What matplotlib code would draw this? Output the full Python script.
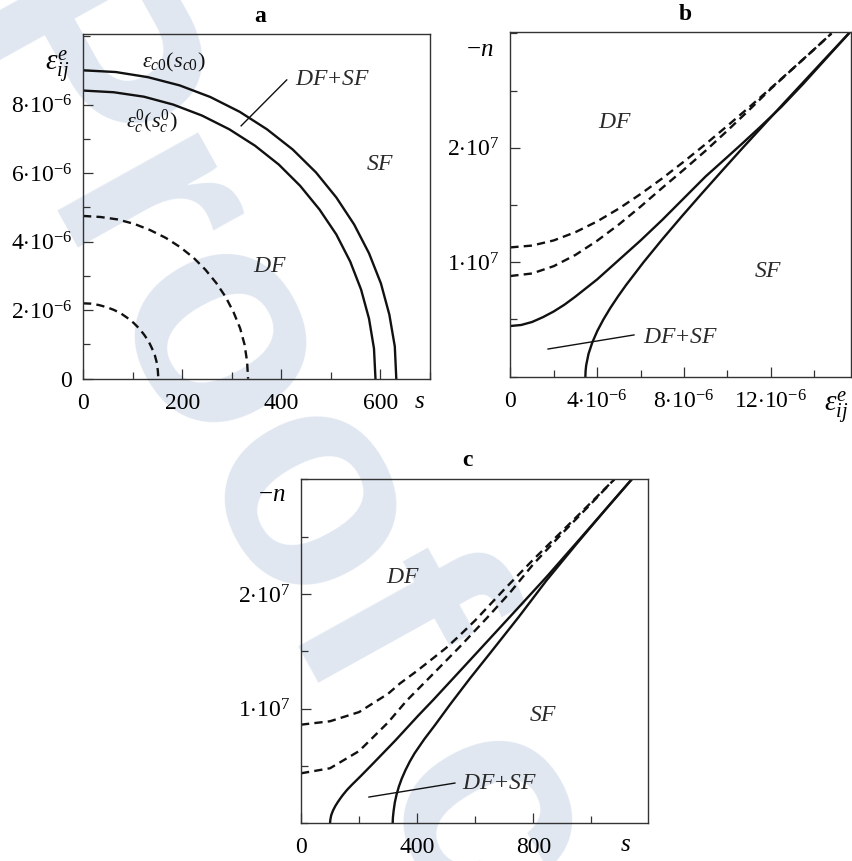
import matplotlib
matplotlib.use('Agg')
import matplotlib.pyplot as plt
from matplotlib.ticker import MultipleLocator

plt.rcParams['font.family'] = ['Liberation Serif', 'DejaVu Serif']
plt.rcParams['mathtext.fontset'] = 'custom'
plt.rcParams['mathtext.rm'] = 'Liberation Serif'
plt.rcParams['mathtext.it'] = 'Liberation Serif:italic'
plt.rcParams['mathtext.bf'] = 'Liberation Serif:bold'

# ---- panel a: strain (1e-6) vs s ----
a_outer_s = [0, 66, 131, 195, 257, 316, 371, 423, 470, 511, 547, 577, 601, 618, 629, 632]
a_outer_e = [9.0, 8.95, 8.80, 8.56, 8.22, 7.79, 7.28, 6.69, 6.02, 5.29, 4.5, 3.66, 2.78, 1.87, 0.94, 0.0]
a_inner_s = [0, 62, 123, 182, 240, 295, 347, 395, 438, 477, 511, 539, 561, 577, 587, 590]
a_inner_e = [8.41, 8.36, 8.23, 8.0, 7.68, 7.28, 6.80, 6.25, 5.63, 4.94, 4.21, 3.42, 2.60, 1.75, 0.88, 0.0]
a_dash1_s = [0, 35, 69, 103, 135, 167, 196, 223, 247, 269, 288, 304, 317, 326, 331, 333]
a_dash1_e = [4.75, 4.72, 4.65, 4.52, 4.34, 4.11, 3.84, 3.53, 3.18, 2.79, 2.38, 1.93, 1.47, 0.99, 0.50, 0.0]
a_dash2_s = [0, 16, 32, 47, 62, 76, 89, 102, 113, 123, 132, 139, 145, 149, 151, 152]
a_dash2_e = [2.2, 2.19, 2.15, 2.09, 2.01, 1.91, 1.78, 1.63, 1.47, 1.29, 1.10, 0.89, 0.68, 0.46, 0.23, 0.0]
a_xticks = [0, 200, 400, 600]
a_yticks = [0, 2, 4, 6, 8]
a_ylabels = ['0', r'$2{\cdot}10^{-6}$', r'$4{\cdot}10^{-6}$', r'$6{\cdot}10^{-6}$', r'$8{\cdot}10^{-6}$']

# ---- panel b: -n (1e7) vs strain (1e-6) ----
b_dash1_e = [0, 1, 2, 3, 4, 5, 6, 7, 8, 9, 10, 11, 12, 13, 14, 14.8]
b_dash1_n = [1.13, 1.146, 1.191, 1.263, 1.357, 1.469, 1.596, 1.733, 1.880, 2.033, 2.192, 2.354, 2.521, 2.690, 2.861, 3.0]
b_dash2_e = [0, 1, 2, 3, 4, 5, 6, 7, 8, 9, 10, 11, 12, 13, 14, 14.8]
b_dash2_n = [0.88, 0.902, 0.966, 1.064, 1.188, 1.330, 1.486, 1.650, 1.810, 1.975, 2.150, 2.33, 2.515, 2.688, 2.86, 3.0]
b_sol1_e = [0, 0.5, 1, 1.5, 2, 2.5, 3, 3.5, 4, 5, 6, 7, 8, 9, 10, 10.7, 11.5, 12.5, 13.5, 14.5, 15.6]
b_sol1_n = [0.443, 0.452, 0.478, 0.52, 0.57, 0.63, 0.70, 0.775, 0.85, 1.02, 1.19, 1.37, 1.56, 1.75, 1.92, 2.04, 2.18, 2.36, 2.56, 2.77, 3.0]
b_sol2_e = [3.46, 3.469, 3.497, 3.605, 3.78, 4.01, 4.29, 4.607, 4.957, 5.331, 6.138, 7.0, 7.897, 8.82, 9.76, 10.71, 11.68, 12.65, 13.63, 14.61, 15.6]
b_sol2_n = [0.0, 0.05, 0.1, 0.2, 0.3, 0.4, 0.5, 0.6, 0.7, 0.8, 1.0, 1.2, 1.4, 1.6, 1.8, 2.0, 2.2, 2.4, 2.6, 2.8, 3.0]
b_xticks = [0, 4, 8, 12]
b_xlabels = ['0', r'$4{\cdot}10^{-6}$', r'$8{\cdot}10^{-6}$', r'$12{\cdot}10^{-6}$']
b_yticks = [1, 2]
b_ylabels = [r'$1{\cdot}10^{7}$', r'$2{\cdot}10^{7}$']

# ---- panel c: -n (1e7) vs s ----
c_dash1_s = [0, 100, 200, 300, 341, 400, 500, 547, 600, 700, 800, 900, 1000, 1079]
c_dash1_n = [0.86, 0.89, 0.97, 1.13, 1.22, 1.33, 1.53, 1.64, 1.77, 2.04, 2.30, 2.55, 2.80, 3.0]
c_dash2_s = [0, 100, 200, 300, 364, 450, 547, 640, 719, 800, 900, 1000, 1079]
c_dash2_n = [0.436, 0.48, 0.63, 0.88, 1.07, 1.29, 1.54, 1.79, 2.01, 2.26, 2.53, 2.79, 3.0]
c_sol1_s = [100, 101, 104, 110, 118, 128, 142, 158, 175, 205, 243, 324, 404, 455, 550, 650, 750, 846, 950, 1050, 1139]
c_sol1_n = [0.0, 0.03, 0.07, 0.11, 0.15, 0.19, 0.24, 0.29, 0.335, 0.41, 0.508, 0.72, 0.94, 1.075, 1.335, 1.61, 1.885, 2.15, 2.45, 2.74, 3.0]
c_sol2_s = [315.6, 316.5, 319, 323, 329, 337, 347, 360, 375, 391, 410, 425, 461, 513, 582, 650, 750, 846, 950, 1050, 1139]
c_sol2_n = [0.0, 0.05, 0.11, 0.18, 0.25, 0.32, 0.39, 0.465, 0.54, 0.61, 0.68, 0.735, 0.855, 1.035, 1.264, 1.48, 1.80, 2.12, 2.44, 2.74, 3.0]
c_xticks = [0, 400, 800]
c_yticks = [1, 2]
c_ylabels = b_ylabels

LW = 1.7
DASH = (3.5, 2.2)
INK = '#111111'
GREY = '#2a2a2a'
TICK_FS = 17

fig = plt.figure(figsize=(8.52, 8.61), dpi=100)
W, H = 852.0, 861.0


def make_axes(left, right, top, bottom):
    ax = fig.add_axes([left / W, 1 - bottom / H, (right - left) / W, (bottom - top) / H])
    ax.patch.set_alpha(0)
    for sp in ax.spines.values():
        sp.set_linewidth(1.0)
        sp.set_color('#333333')
    ax.tick_params(which='both', direction='in', top=False, right=False,
                   labelsize=TICK_FS, width=0.9, color='#333333')
    ax.tick_params(which='major', length=7)
    ax.tick_params(which='minor', length=5)
    ax.tick_params(axis='x', pad=10)
    ax.tick_params(axis='y', pad=8)
    return ax


# watermark across the page
fig.text(-52 / W, 1 - 14 / H, 'Proof copy', rotation=-61, rotation_mode='anchor',
         ha='left', va='baseline', fontsize=219, fontweight='bold',
         family='Liberation Sans', color='#e0e7f1', zorder=-5)

# panel a
ax = make_axes(83, 430, 34, 378.7)
ax.plot(a_outer_s, a_outer_e, color=INK, lw=LW)
ax.plot(a_inner_s, a_inner_e, color=INK, lw=LW)
ax.plot(a_dash1_s, a_dash1_e, color=INK, lw=LW, dashes=DASH)
ax.plot(a_dash2_s, a_dash2_e, color=INK, lw=LW, dashes=DASH)
ax.set_xlim(0, 700)
ax.set_ylim(0, 10.06)
ax.set_xticks(a_xticks)
ax.xaxis.set_minor_locator(MultipleLocator(100))
ax.set_yticks(a_yticks)
ax.set_yticklabels(a_ylabels)
ax.yaxis.set_minor_locator(MultipleLocator(1))
ax.text(183, 9.22, r'$\varepsilon_{c0}(s_{c0})$', fontsize=16, ha='center', va='center', color=INK)
ax.text(139, 7.49, r'$\varepsilon_c^0(s_c^0)$', fontsize=16, ha='center', va='center', color=INK)
ax.text(427, 8.72, r'$DF\!+\!SF$', fontsize=17, ha='left', va='center', color=GREY)
ax.plot([411, 319], [8.72, 7.38], color=INK, lw=1.0)
ax.text(599, 6.24, r'$SF$', fontsize=17, ha='center', va='center', color=GREY)
ax.text(377, 3.26, r'$DF$', fontsize=17, ha='center', va='center', color=GREY)
ax.text(-0.075, 0.905, r'$\varepsilon_{ij}^{e}$', transform=ax.transAxes, fontsize=21,
        ha='center', va='center')
ax.text(0.971, -0.068, r'$s$', transform=ax.transAxes, fontsize=18, ha='center', va='center')
fig.text(260 / W, 1 - 16 / H, 'a', fontsize=17, fontweight='bold', ha='center', va='center')

# panel b
ax = make_axes(510.3, 851, 32.3, 376.7)
ax.plot(b_dash1_e, b_dash1_n, color=INK, lw=LW, dashes=DASH)
ax.plot(b_dash2_e, b_dash2_n, color=INK, lw=LW, dashes=DASH)
ax.plot(b_sol1_e, b_sol1_n, color=INK, lw=LW)
ax.plot(b_sol2_e, b_sol2_n, color=INK, lw=LW)
ax.set_xlim(0, 15.7)
ax.set_ylim(0, 3.01)
ax.set_xticks(b_xticks)
ax.set_xticklabels(b_xlabels)
ax.xaxis.set_minor_locator(MultipleLocator(2))
ax.set_yticks(b_yticks)
ax.set_yticklabels(b_ylabels)
ax.yaxis.set_minor_locator(MultipleLocator(0.5))
ax.text(4.82, 2.22, r'$DF$', fontsize=17, ha='center', va='center', color=GREY)
ax.text(11.87, 0.916, r'$SF$', fontsize=17, ha='center', va='center', color=GREY)
ax.text(6.11, 0.339, r'$DF\!+\!SF$', fontsize=17, ha='left', va='center', color=GREY)
ax.plot([5.70, 1.74], [0.365, 0.242], color=INK, lw=1.0)
ax.text(-0.089, 0.949, r'$-n$', transform=ax.transAxes, fontsize=18, ha='center', va='center')
ax.text(0.957, -0.09, r'$\varepsilon_{ij}^{e}$', transform=ax.transAxes, fontsize=21,
        ha='center', va='center')
fig.text(685 / W, 1 - 14 / H, 'b', fontsize=17, fontweight='bold', ha='center', va='center')

# panel c
ax = make_axes(301, 648.3, 479.3, 823.3)
ax.plot(c_dash1_s, c_dash1_n, color=INK, lw=LW, dashes=DASH)
ax.plot(c_dash2_s, c_dash2_n, color=INK, lw=LW, dashes=DASH)
ax.plot(c_sol1_s, c_sol1_n, color=INK, lw=LW)
ax.plot(c_sol2_s, c_sol2_n, color=INK, lw=LW)
ax.set_xlim(0, 1196)
ax.set_ylim(0, 3.0)
ax.set_xticks(c_xticks)
ax.xaxis.set_minor_locator(MultipleLocator(200))
ax.set_yticks(c_yticks)
ax.set_yticklabels(c_ylabels)
ax.yaxis.set_minor_locator(MultipleLocator(0.5))
ax.text(351, 2.147, r'$DF$', fontsize=17, ha='center', va='center', color=GREY)
ax.text(833, 0.944, r'$SF$', fontsize=17, ha='center', va='center', color=GREY)
ax.text(554, 0.351, r'$DF\!+\!SF$', fontsize=17, ha='left', va='center', color=GREY)
ax.plot([530, 234], [0.351, 0.229], color=INK, lw=1.0)
ax.text(-0.083, 0.954, r'$-n$', transform=ax.transAxes, fontsize=18, ha='center', va='center')
ax.text(0.933, -0.063, r'$s$', transform=ax.transAxes, fontsize=18, ha='center', va='center')
fig.text(467 / W, 1 - 460 / H, 'c', fontsize=17, fontweight='bold', ha='center', va='center')

fig.savefig('out.png', dpi=100)
